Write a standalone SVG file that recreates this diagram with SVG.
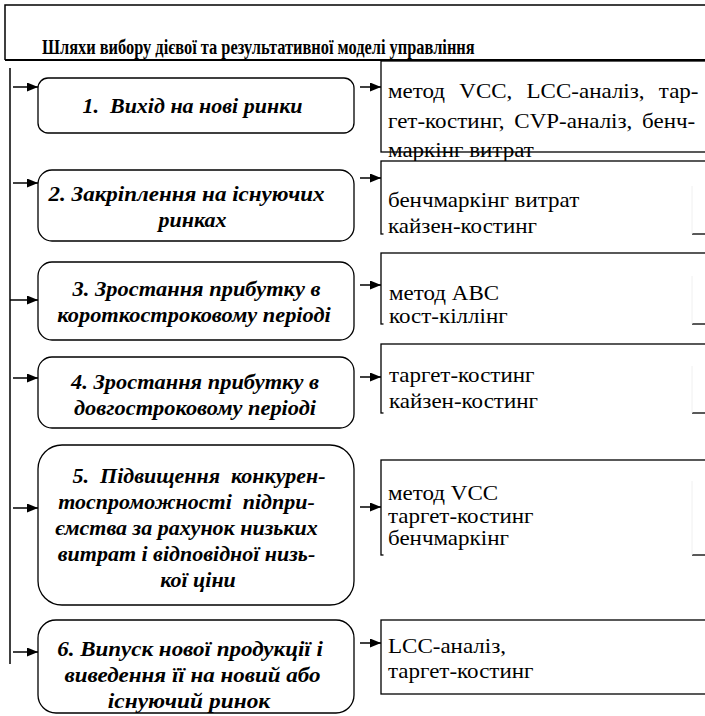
<svg xmlns="http://www.w3.org/2000/svg" width="705" height="716" viewBox="0 0 705 716">
<defs>
<marker id="ah" viewBox="0 0 11 9" refX="11" refY="4.5" markerWidth="11" markerHeight="9" markerUnits="userSpaceOnUse" orient="auto">
<path d="M0,0 L11,4.5 L0,9 z" fill="#000"/>
</marker>
</defs>
<rect x="0" y="0" width="705" height="716" fill="#fff"/>

<g id="header">
<path d="M706,5 H5 V60" fill="none" stroke="#000" stroke-width="1.5"/>
<path d="M5,60 H706" stroke="#000" stroke-width="2"/>
<text transform="translate(42,54) scale(0.78,1)" font-family="Liberation Serif" font-weight="bold" font-size="21">Шляхи вибору дієвої та результативної моделі управління</text>
</g>

<g id="connectors" fill="none" stroke="#000" stroke-width="1.5">
<path d="M10,68 V664"/>
<g marker-end="url(#ah)">
<path d="M13,87 H38"/>
<path d="M13,183 H38"/>
<path d="M10,300 H38"/>
<path d="M13,378 H38"/>
<path d="M13,508 H38"/>
<path d="M13,652 H38"/>
<path d="M360,87 H381"/>
<path d="M360,178 H381"/>
<path d="M360,285 H381"/>
<path d="M360,377 H381"/>
<path d="M360,507 H381"/>
<path d="M360,643 H381"/>
</g>
</g>

<g id="nodes" font-family="Liberation Serif" font-weight="bold" font-style="italic" font-size="20" fill="#000" text-anchor="middle">
<g id="n1">
<rect x="38" y="78" width="316" height="55" rx="10" fill="#fff" stroke="#000" stroke-width="1.3"/>
<text xml:space="preserve" transform="translate(192.5,113) scale(1.1,1)">1.  Вихід на нові ринки</text>
</g>
<g id="n2">
<rect x="38" y="170" width="316" height="71" rx="14" fill="#fff" stroke="#000" stroke-width="1.3"/>
<text transform="translate(186.5,201) scale(1.15,1)">2. Закріплення на існуючих</text>
<text transform="translate(192.5,227) scale(1.1,1)">ринках</text>
</g>
<g id="n3">
<rect x="38" y="262" width="316" height="78" rx="14" fill="#fff" stroke="#000" stroke-width="1.3"/>
<text transform="translate(196.5,296) scale(1.12,1)">3. Зростання прибутку в</text>
<text transform="translate(194,322) scale(1.12,1)">короткостроковому періоді</text>
</g>
<g id="n4">
<rect x="38" y="357" width="316" height="71" rx="14" fill="#fff" stroke="#000" stroke-width="1.3"/>
<text transform="translate(195,389) scale(1.12,1)">4. Зростання прибутку в</text>
<text transform="translate(195,415) scale(1.12,1)">довгостроковому періоді</text>
</g>
<g id="n5">
<rect x="38" y="445" width="316" height="160" rx="24" fill="#fff" stroke="#000" stroke-width="1.3"/>
<text xml:space="preserve" transform="translate(199,483) scale(1.1,1)">5.  Підвищення  конкурен-</text>
<text xml:space="preserve" transform="translate(186.5,509) scale(1.1,1)">тоспроможності  підпри-</text>
<text transform="translate(186.5,535) scale(1.1,1)">ємства за рахунок низьких</text>
<text transform="translate(186.5,561) scale(1.1,1)">витрат і відповідної низь-</text>
<text transform="translate(198,587) scale(1.1,1)">кої ціни</text>
</g>
<g id="n6">
<rect x="38" y="620" width="316" height="93" rx="18" fill="#fff" stroke="#000" stroke-width="1.3"/>
<text transform="translate(190,656) scale(1.15,1)">6. Випуск нової продукції і</text>
<text transform="translate(192.5,682) scale(1.15,1)">виведення її на новий або</text>
<text transform="translate(189,708) scale(1.17,1)">існуючий ринок</text>
</g>
</g>

<g id="methods" font-family="Liberation Serif" font-size="20" fill="#000">
<g id="m1">
<rect x="381" y="61" width="340" height="91" fill="#fff" stroke="#000" stroke-width="1.3"/>
<text xml:space="preserve" word-spacing="1.2" transform="translate(388,98) scale(1.15,1)">метод  VCC,  LCC-аналіз,  тар-</text>
<text word-spacing="3.5" transform="translate(388,128) scale(1.15,1)">гет-костинг, CVP-аналіз, бенч-</text>
<text transform="translate(388,157) scale(1.15,1)">маркінг витрат</text>
</g>
<g id="m2">
<rect x="381" y="161" width="340" height="73" fill="#fff" stroke="#000" stroke-width="1.3"/>
<rect x="383.5" y="186" width="308.5" height="50" fill="#fff"/>
<path d="M692,186 V234" stroke="#f0f0f0"/>
<text transform="translate(388,207) scale(1.15,1)">бенчмаркінг витрат</text>
<text transform="translate(388,233) scale(1.15,1)">кайзен-костинг</text>
</g>
<g id="m3">
<rect x="381" y="253" width="340" height="71" fill="#fff" stroke="#000" stroke-width="1.3"/>
<rect x="383.5" y="276" width="308.5" height="50" fill="#fff"/>
<path d="M692,276 V324" stroke="#f0f0f0"/>
<text transform="translate(389,300) scale(1.15,1)">метод АВС</text>
<text transform="translate(389,323) scale(1.15,1)">кост-кіллінг</text>
</g>
<g id="m4">
<rect x="381" y="344" width="340" height="69" fill="#fff" stroke="#000" stroke-width="1.3"/>
<rect x="383.5" y="366" width="308.5" height="49" fill="#fff"/>
<path d="M692,366 V413" stroke="#f0f0f0"/>
<text transform="translate(389,382) scale(1.15,1)">таргет-костинг</text>
<text transform="translate(389,408) scale(1.15,1)">кайзен-костинг</text>
</g>
<g id="m5">
<rect x="381" y="460" width="340" height="95" fill="#fff" stroke="#000" stroke-width="1.3"/>
<rect x="383.5" y="481" width="308.5" height="76" fill="#fff"/>
<path d="M692,481 V555" stroke="#f0f0f0"/>
<text transform="translate(388,500) scale(1.15,1)">метод VCC</text>
<text transform="translate(388,523) scale(1.15,1)">таргет-костинг</text>
<text transform="translate(388,545) scale(1.15,1)">бенчмаркінг</text>
</g>
<g id="m6">
<rect x="381" y="620" width="340" height="74" fill="#fff" stroke="#000" stroke-width="1.3"/>
<text transform="translate(388,653) scale(1.15,1)">LCC-аналіз,</text>
<text transform="translate(388,678) scale(1.15,1)">таргет-костинг</text>
</g>
</g>
</svg>
